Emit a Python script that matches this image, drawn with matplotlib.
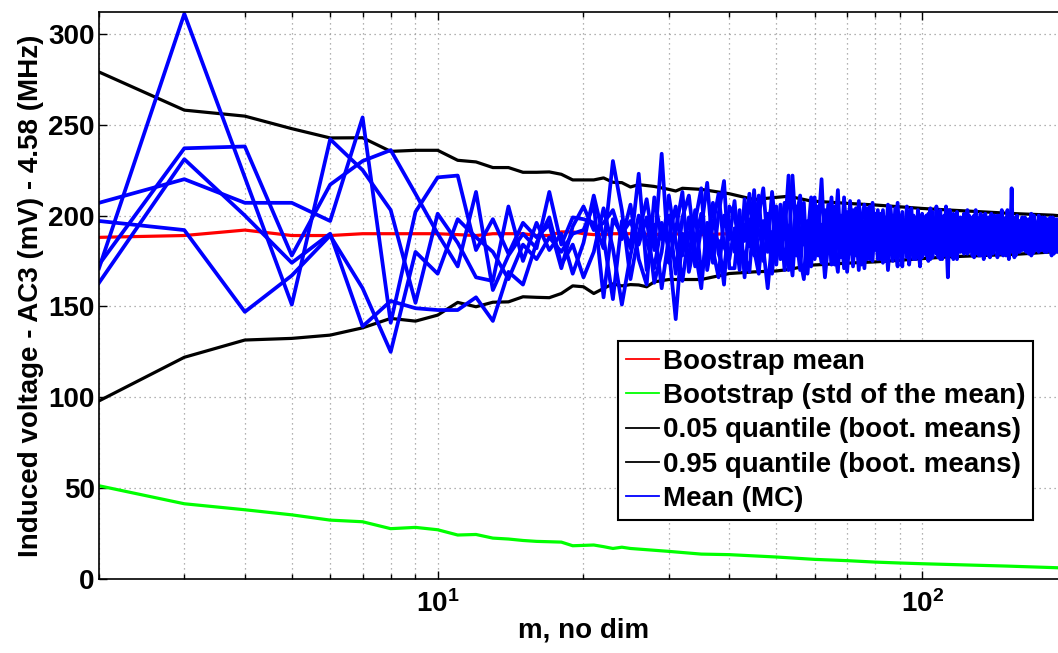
import matplotlib
matplotlib.use("Agg")
import matplotlib.pyplot as plt
from matplotlib.lines import Line2D
from matplotlib.ticker import LogLocator, NullFormatter, FixedLocator

plt.rcParams["font.family"] = ["Liberation Sans", "DejaVu Sans"]
plt.rcParams["mathtext.fontset"] = "custom"
plt.rcParams["mathtext.rm"] = "Liberation Sans:bold"
plt.rcParams["mathtext.it"] = "Liberation Sans:bold"
plt.rcParams["mathtext.bf"] = "Liberation Sans:bold"

# Monte Carlo sample sizes (one point per m)
m_mc = list(range(2, 201))

# five Monte Carlo mean realisations, m = 2 .. 200
mc_a = [171, 311, 221, 151, 242, 225, 203, 152, 201, 185, 166, 164, 205, 175, 196, 181, 190, 168, 185,
        211, 188, 154, 197, 182, 223, 170, 195, 160, 188, 205, 178, 199, 172, 193, 218, 181, 166, 200, 187,
        208, 176, 195, 183, 214, 172, 190, 201, 168, 196, 185, 207, 179, 222, 188, 170, 199, 184, 203, 177,
        191, 220, 180, 197, 174, 205, 186, 193, 171, 202, 183, 196, 178, 208, 189, 175, 199, 184, 194, 181,
        203, 176, 192, 187, 206, 179, 195, 183, 172, 200, 188, 197, 177, 191, 204, 182, 194, 179, 199, 186,
        193, 178, 201, 185, 196, 181, 205, 188, 176, 197, 184, 192, 166, 199, 187, 194, 180, 202, 189, 183,
        198, 182, 191, 179, 200, 186, 195, 177, 193, 188, 184, 201, 180, 196, 187, 192, 178, 199, 185, 194,
        181, 197, 186, 190, 179, 203, 184, 195, 188, 180, 198, 187, 215, 183, 192, 178, 196, 186, 191, 182,
        199, 184, 193, 180, 197, 188, 185, 201, 179, 194, 187, 192, 181, 198, 186, 190, 183, 196, 185, 193,
        180, 197, 187, 191, 178, 199, 186, 194, 182, 196, 188, 183, 200, 185, 192, 180, 195, 187, 190, 184]
mc_b = [163, 231, 200, 174, 190, 139, 153, 149, 148, 148, 155, 142, 169, 162, 185, 199, 173, 184, 166,
        180, 204, 182, 151, 178, 200, 186, 171, 196, 182, 143, 190, 176, 203, 168, 185, 207, 179, 170, 195,
        180, 203, 166, 198, 187, 211, 175, 192, 208, 181, 199, 170, 193, 186, 205, 176, 165, 197, 182, 210,
        178, 195, 184, 206, 173, 190, 199, 180, 210, 185, 194, 172, 201, 187, 180, 197, 176, 205, 188, 193,
        182, 198, 187, 175, 196, 190, 181, 204, 186, 178, 197, 184, 193, 202, 179, 189, 196, 181, 192, 177,
        188, 200, 182, 195, 177, 192, 186, 198, 183, 190, 178, 205, 191, 181, 197, 185, 193, 176, 190, 199,
        184, 194, 187, 203, 180, 191, 197, 185, 181, 199, 189, 178, 194, 186, 201, 182, 190, 197, 180, 188,
        195, 183, 200, 179, 192, 187, 181, 198, 185, 194, 176, 191, 188, 199, 182, 195, 181, 189, 197, 184,
        190, 198, 181, 194, 187, 179, 196, 183, 192, 200, 184, 189, 195, 180, 193, 185, 199, 182, 191, 188,
        196, 183, 190, 199, 185, 181, 193, 188, 198, 180, 191, 197, 184, 189, 179, 194, 186, 198, 183, 191]
mc_c = [173, 237, 238, 178, 217, 230, 236, 212, 190, 172, 213, 159, 178, 190, 182, 213, 184, 199, 198,
        196, 182, 230, 203, 165, 190, 209, 181, 234, 174, 192, 213, 169, 186, 201, 177, 195, 212, 183, 176,
        193, 170, 209, 188, 178, 200, 215, 184, 191, 173, 206, 189, 222, 175, 196, 182, 207, 168, 193, 188,
        205, 183, 174, 192, 210, 181, 169, 200, 188, 176, 208, 185, 193, 170, 198, 206, 183, 190, 175, 201,
        189, 184, 203, 179, 185, 198, 175, 192, 207, 183, 172, 195, 188, 180, 196, 190, 176, 203, 184, 195,
        181, 196, 189, 176, 202, 187, 179, 193, 198, 182, 195, 186, 180, 203, 178, 190, 197, 184, 180, 196,
        190, 179, 197, 187, 182, 199, 178, 194, 203, 183, 192, 188, 198, 176, 191, 196, 184, 186, 201, 179,
        188, 199, 177, 195, 185, 181, 197, 189, 178, 203, 186, 182, 194, 190, 177, 188, 200, 183, 180, 196,
        185, 191, 199, 186, 181, 195, 190, 178, 197, 185, 193, 182, 188, 200, 181, 196, 187, 191, 180, 198,
        189, 193, 181, 186, 197, 190, 179, 195, 187, 184, 198, 181, 192, 186, 199, 183, 190, 181, 196, 188]
mc_d = [207, 220, 207, 207, 197, 254, 141, 202, 221, 222, 181, 198, 179, 196, 188, 195, 171, 194, 205,
        192, 196, 203, 187, 206, 176, 162, 210, 187, 200, 168, 199, 211, 181, 160, 196, 174, 201, 219, 171,
        171, 199, 186, 212, 181, 168, 197, 180, 213, 190, 176, 202, 185, 167, 199, 211, 184, 195, 172, 200,
        186, 174, 203, 181, 195, 188, 214, 177, 193, 200, 179, 187, 204, 183, 192, 171, 195, 180, 207, 186,
        195, 190, 174, 199, 183, 205, 189, 177, 194, 187, 202, 180, 198, 173, 185, 200, 188, 195, 180, 190,
        199, 185, 192, 204, 181, 196, 190, 177, 194, 187, 200, 183, 196, 188, 179, 201, 186, 192, 197, 180,
        186, 201, 180, 193, 190, 184, 188, 200, 187, 179, 197, 191, 183, 200, 180, 188, 193, 181, 195, 189,
        200, 186, 191, 184, 198, 180, 190, 183, 196, 188, 182, 199, 181, 186, 196, 191, 184, 197, 186, 190,
        181, 195, 187, 192, 184, 198, 182, 191, 186, 180, 197, 190, 184, 193, 188, 181, 194, 189, 199, 183,
        193, 186, 198, 180, 190, 195, 184, 181, 192, 197, 185, 190, 181, 196, 186, 192, 199, 182, 187, 194]
mc_e = [197, 192, 147, 167, 189, 160, 125, 180, 168, 198, 188, 180, 165, 184, 176, 188, 180, 190, 192,
        206, 155, 198, 190, 197, 184, 199, 163, 180, 211, 186, 164, 190, 197, 215, 170, 189, 186, 162, 205,
        200, 185, 178, 169, 202, 191, 182, 160, 186, 205, 180, 195, 170, 190, 178, 203, 192, 187, 210, 176,
        197, 190, 166, 185, 200, 173, 192, 183, 198, 169, 190, 203, 181, 196, 173, 188, 204, 176, 185, 197,
        176, 201, 185, 193, 170, 187, 200, 182, 179, 196, 183, 189, 205, 181, 190, 176, 199, 186, 172, 201,
        184, 191, 175, 198, 188, 180, 197, 184, 203, 176, 189, 198, 184, 180, 194, 176, 188, 196, 183, 188,
        195, 187, 183, 199, 181, 194, 186, 180, 190, 197, 178, 195, 186, 181, 194, 185, 199, 177, 190, 197,
        183, 191, 195, 200, 186, 193, 178, 187, 199, 184, 192, 196, 180, 193, 187, 199, 185, 180, 194, 187,
        196, 182, 189, 198, 190, 185, 193, 199, 183, 190, 181, 196, 187, 185, 197, 183, 181, 192, 187, 180,
        186, 198, 184, 193, 188, 182, 196, 181, 185, 190, 194, 186, 197, 183, 188, 199, 182, 192, 185, 181]

# bootstrap mean
m_red = [2, 3, 4, 5, 6, 7, 8, 9, 10, 11, 12, 13, 14, 15, 16, 17, 18, 19, 20, 21, 22, 23, 25, 28, 30,
         35, 40, 50, 60, 80, 100, 130, 160, 200]
boot_mean = [188, 189, 192, 189, 189, 190, 190, 190, 190, 189.5, 189, 190, 190, 190, 189, 189, 191, 191,
             190, 189.5, 189.5, 190, 190, 189.5, 190, 189.5, 190, 189.5, 190, 189.5, 190, 190, 190, 190]

# bootstrap std of the mean
m_green = [2, 3, 4, 5, 6, 7, 8, 9, 10, 11, 12, 13, 14, 15, 16, 17, 18, 19, 20, 21, 22, 23, 24, 25, 30,
           35, 40, 50, 60, 70, 80, 90, 100, 150, 200]
boot_std = [51.3, 41.4, 38.1, 35.3, 32.4, 31.5, 27.7, 28.4, 27.1, 24.2, 24.5, 22.5, 22.0, 21.2, 20.7,
            20.5, 20.3, 18.3, 18.5, 18.7, 17.8, 16.8, 17.5, 16.8, 15.2, 13.7, 13.4, 12.1, 10.8, 10.1,
            9.3, 8.8, 8.4, 7.1, 6.0]

# 0.05 quantile of the bootstrap means
m_q05 = [2, 3, 4, 5, 6, 7, 8, 9, 10, 11, 12, 13, 14, 15, 16, 17, 18, 19, 20, 21, 22, 23, 24, 25, 26,
         27, 28, 30, 35, 40, 45, 50, 53, 59, 70, 80, 90, 100, 114, 134, 157, 186, 200]
q05 = [98, 122, 131.5, 132.4, 134.2, 138.2, 143.4, 141.9, 145.2, 152.2, 149.8, 152.3, 152.5, 155.3,
       155.0, 154.8, 157.1, 161.3, 160.8, 157.1, 159.9, 162.4, 161.3, 162.0, 161.8, 160.8, 163.5, 164.8,
       164.8, 168.1, 169.0, 169.5, 170.3, 172.7, 173.8, 174.5, 175.4, 176.3, 177.3, 178.0, 178.7, 180.0,
       180.3]

# 0.95 quantile of the bootstrap means
m_q95 = [2, 3, 4, 5, 6, 7, 8, 9, 10, 11, 12, 13, 14, 15, 16, 17, 18, 19, 20, 21, 22, 23, 24, 25, 26,
         27, 28, 30, 31, 32, 35, 40, 45, 50, 53, 59, 70, 80, 90, 100, 114, 134, 157, 186, 200]
q95 = [279, 258, 254.7, 247.8, 242.7, 242.8, 235.3, 235.9, 235.9, 230.4, 229.5, 226.4, 226.4, 223.8,
       223.8, 224.0, 222.7, 219.6, 219.6, 219.6, 220.7, 218.3, 218.1, 215.7, 217.0, 216.5, 216.0, 214.4,
       213.5, 215.0, 214.4, 212.0, 208.8, 210.0, 210.6, 208.0, 206.7, 205.8, 204.8, 203.9, 203.0, 202.0,
       201.0, 200.2, 199.5]

labels = ["Boostrap mean", "Bootstrap (std of the mean)", "0.05 quantile (boot. means)",
          "0.95 quantile (boot. means)", "Mean (MC)"]

fig = plt.figure(figsize = (10.58, 6.53), dpi = 100)
ax = fig.add_axes([99 / 1058, 74 / 653, 969 / 1058, 567 / 653])

ax.plot(m_red, boot_mean, color = "#ff0000", linewidth = 2.3)
ax.plot(m_green, boot_std, color = "#00ff00", linewidth = 2.3)
ax.plot(m_q05, q05, color = "#000000", linewidth = 2.3)
ax.plot(m_q95, q95, color = "#000000", linewidth = 2.3)
for series in (mc_a, mc_b, mc_c, mc_d, mc_e):
    ax.plot(m_mc, series, color = "#0000ff", linewidth = 2.7)

ax.set_xscale("log")
ax.set_xlim(2, 200)
ax.set_ylim(0, 312)
ax.set_yticks([0, 50, 100, 150, 200, 250, 300])
ax.xaxis.set_major_locator(FixedLocator([10, 100]))
ax.set_xticklabels([r"$10^1$", r"$10^2$"])
ax.xaxis.set_minor_locator(LogLocator(base = 10, subs = range(2, 10)))
ax.xaxis.set_minor_formatter(NullFormatter())

ax.grid(True, which = "both", axis = "x", color = "#999999", linestyle = (0, (1, 3)), linewidth = 0.9)
ax.grid(True, which = "major", axis = "y", color = "#999999", linestyle = (0, (1, 3)), linewidth = 0.9)

ax.tick_params(which = "both", direction = "in", top = True, right = True, width = 1.0, colors = "black")
ax.tick_params(which = "major", length = 6)
ax.tick_params(which = "minor", length = 3.5)
ax.tick_params(axis = "y", labelsize = 20, pad = 3)
ax.tick_params(axis = "x", labelsize = 20, pad = 8)
for lab in ax.get_yticklabels():
    lab.set_fontweight("bold")
for spine in ax.spines.values():
    spine.set_linewidth(1.2)

ax.set_xlabel("m, no dim", fontsize = 20, fontweight = "bold", labelpad = 0)
ax.set_ylabel("Induced voltage - AC3 (mV) - 4.58 (MHz)", fontsize = 20, fontweight = "bold", labelpad = 3)

handles = [Line2D([], [], color = c, linewidth = 1.3) for c in ("#ff0000", "#00ff00", "#000000", "#000000", "#0000ff")]
leg = ax.legend(handles, labels, loc = "upper right", bbox_to_anchor = ((1033 - 99) / 969, (579 - 341) / 567),
                borderaxespad = 0, fancybox = False, framealpha = 1, edgecolor = "black",
                prop = {"size": 20, "weight": "bold"}, handlelength = 1.2, handletextpad = 0.12,
                labelspacing = 0.3, borderpad = 0.28)
leg.get_frame().set_linewidth(1.5)

plt.savefig("out.png", dpi = 100)
plt.close(fig)
